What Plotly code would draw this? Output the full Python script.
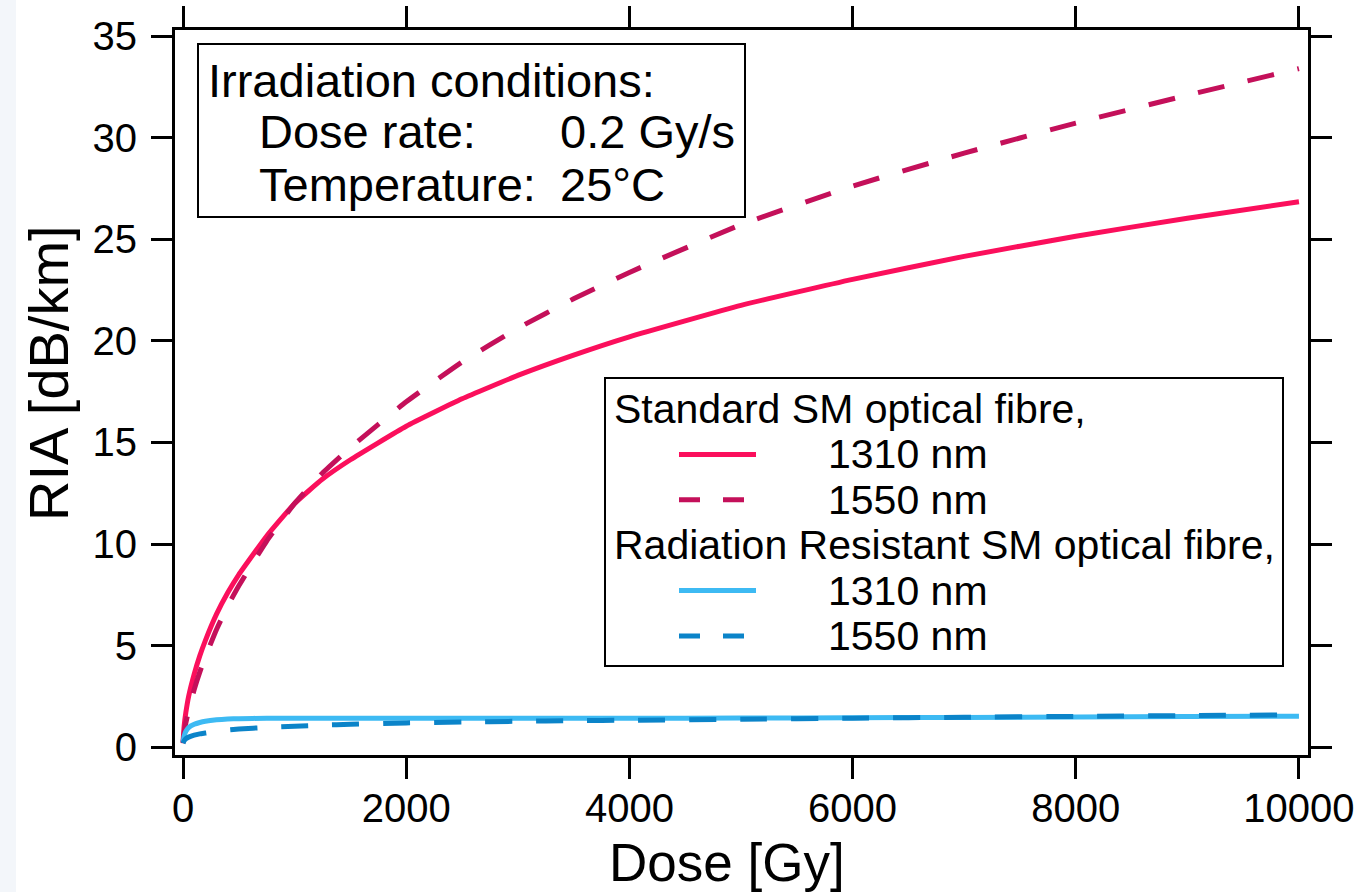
import plotly.graph_objects as go

# ---------------- data ----------------
dose_gy = [0, 10, 25, 50, 100, 150, 200, 300, 400, 500, 750, 1000, 1250, 1500,
           2000, 2500, 3000, 3500, 4000, 5000, 6000, 7000, 8000, 9000, 10000]

std_1310 = [0.25, 1.05, 1.7, 2.5, 3.6, 4.5, 5.25, 6.55, 7.6, 8.5, 10.4, 12.0, 13.2, 14.15,
            15.8, 17.15, 18.3, 19.3, 20.2, 21.75, 23.03, 24.16, 25.15, 26.04, 26.85]
std_1550 = [0.2, 0.72, 1.19, 1.81, 2.84, 3.7, 4.45, 5.8, 6.95, 7.95, 10.15, 12.0, 13.5, 14.75,
            17.0, 18.96, 20.62, 22.07, 23.37, 25.72, 27.62, 29.24, 30.72, 32.09, 33.4]
rr_1310 = [0.25, 0.55, 0.78, 0.97, 1.13, 1.22, 1.28, 1.35, 1.39, 1.41, 1.43, 1.43, 1.43, 1.43,
           1.43, 1.43, 1.43, 1.43, 1.43, 1.44, 1.45, 1.47, 1.49, 1.51, 1.53]
rr_1550 = [0.2, 0.32, 0.42, 0.5, 0.6, 0.66, 0.7, 0.78, 0.85, 0.9, 0.98, 1.04, 1.09, 1.13,
           1.2, 1.24, 1.28, 1.31, 1.33, 1.38, 1.43, 1.48, 1.52, 1.56, 1.6]

x_ticks = [0, 2000, 4000, 6000, 8000, 10000]
x_tick_labels = ["0", "2000", "4000", "6000", "8000", "10000"]
y_ticks = [0, 5, 10, 15, 20, 25, 30, 35]

x_title = "Dose [Gy]"
y_title = "RIA [dB/km]"

group_titles = ["Standard SM optical fibre,", "Radiation Resistant SM optical fibre,"]
series = [
    # (group index, label, values, colour, dash)
    (0, "1310 nm", std_1310, "#fb0f5c", "solid"),
    (0, "1550 nm", std_1550, "#c4105a", "dash"),
    (1, "1310 nm", rr_1310, "#3dbaf3", "solid"),
    (1, "1550 nm", rr_1550, "#0b84c9", "dash"),
]

info_title = "Irradiation conditions:"
info_rows = [("Dose rate:", "0.2 Gy/s"), ("Temperature:", "25°C")]

# ---------------- styling ----------------
FONT = "Liberation Sans, Arial, sans-serif"
W, H = 1365, 892
ML, MR, MT, MB = 175, 57, 30, 137
PW, PH = W - ML - MR, H - MT - MB
DASH_PLOT = "27px,24px"
DASH_LEG = "21px,23px"


def px(x):  # pixel x -> paper
    return (x - ML) / PW


def py(y):  # pixel y -> paper
    return (H - MB - y) / PH


fig = go.Figure()
for gi, label, vals, col, dash in series:
    fig.add_trace(go.Scatter(
        x=dose_gy, y=vals, mode="lines", name=f"{group_titles[gi]} {label}",
        line=dict(color=col, width=5, dash=DASH_PLOT if dash == "dash" else "solid",
                  shape="spline", smoothing=0.4),
        showlegend=False,
    ))

shapes = []
annotations = []

# faint tinted strip on the far left of the original picture
shapes.append(dict(type="rect", xref="paper", yref="paper",
                   x0=px(0), x1=px(16), y0=py(H), y1=py(0),
                   line=dict(width=0), fillcolor="#f3f6fa", layer="below"))

# info box
shapes.append(dict(type="rect", xref="paper", yref="paper",
                   x0=px(198), x1=px(745), y0=py(217), y1=py(44),
                   line=dict(color="black", width=2), fillcolor="white", layer="above"))
annotations.append(dict(xref="paper", yref="paper", x=px(206), y=py(80),
                        text=info_title, showarrow=False, xanchor="left", yanchor="middle",
                        font=dict(family=FONT, size=47, color="black")))
for i, (k, v) in enumerate(info_rows):
    yy = py(131 + i * 53)
    annotations.append(dict(xref="paper", yref="paper", x=px(257), y=yy, text=k,
                            showarrow=False, xanchor="left", yanchor="middle",
                            font=dict(family=FONT, size=47, color="black")))
    annotations.append(dict(xref="paper", yref="paper", x=px(558), y=yy, text=v,
                            showarrow=False, xanchor="left", yanchor="middle",
                            font=dict(family=FONT, size=47, color="black")))

# legend box (built from the series list)
shapes.append(dict(type="rect", xref="paper", yref="paper",
                   x0=px(605), x1=px(1283), y0=py(666), y1=py(378),
                   line=dict(color="black", width=2), fillcolor="white", layer="above"))
row_y = 409
row_h = 45.4
row = 0
for gi, gt in enumerate(group_titles):
    annotations.append(dict(xref="paper", yref="paper", x=px(612), y=py(row_y + row * row_h),
                            text=gt, showarrow=False, xanchor="left", yanchor="middle",
                            font=dict(family=FONT, size=41, color="black")))
    row += 1
    for sgi, label, vals, col, dash in series:
        if sgi != gi:
            continue
        yy = py(row_y + row * row_h)
        shapes.append(dict(type="line", xref="paper", yref="paper",
                           x0=px(679), x1=px(756), y0=yy, y1=yy, layer="above",
                           line=dict(color=col, width=5,
                                     dash=DASH_LEG if dash == "dash" else "solid")))
        annotations.append(dict(xref="paper", yref="paper", x=px(826), y=yy,
                                text=label, showarrow=False, xanchor="left", yanchor="middle",
                                font=dict(family=FONT, size=41, color="black")))
        row += 1

# axis titles
annotations.append(dict(xref="paper", yref="paper", x=px(727), y=py(862), text=x_title,
                        showarrow=False, xanchor="center", yanchor="middle",
                        font=dict(family=FONT, size=53, color="black")))
annotations.append(dict(xref="paper", yref="paper", x=px(48), y=py(373), text=y_title,
                        textangle=-90, showarrow=False, xanchor="center", yanchor="middle",
                        font=dict(family=FONT, size=56, color="black")))

axis_common = dict(
    showline=True, linewidth=3, linecolor="black", mirror="ticks",
    ticks="outside", ticklen=21, tickwidth=3, tickcolor="black",
    showgrid=False, zeroline=False,
    tickfont=dict(family=FONT, size=40, color="black"),
)

fig.update_layout(
    width=W, height=H,
    margin=dict(l=ML, r=MR, t=MT, b=MB, autoexpand=False),
    paper_bgcolor="white", plot_bgcolor="white",
    font=dict(family=FONT, color="black"),
    xaxis=dict(range=[-72, 10081], tickvals=x_ticks, ticktext=x_tick_labels,
               ticklabelstandoff=-5, **axis_common),
    yaxis=dict(range=[-0.38, 35.3], tickvals=y_ticks, ticklabelstandoff=6,
               **axis_common),
    shapes=shapes, annotations=annotations, showlegend=False,
)

fig.write_html("out.html")
